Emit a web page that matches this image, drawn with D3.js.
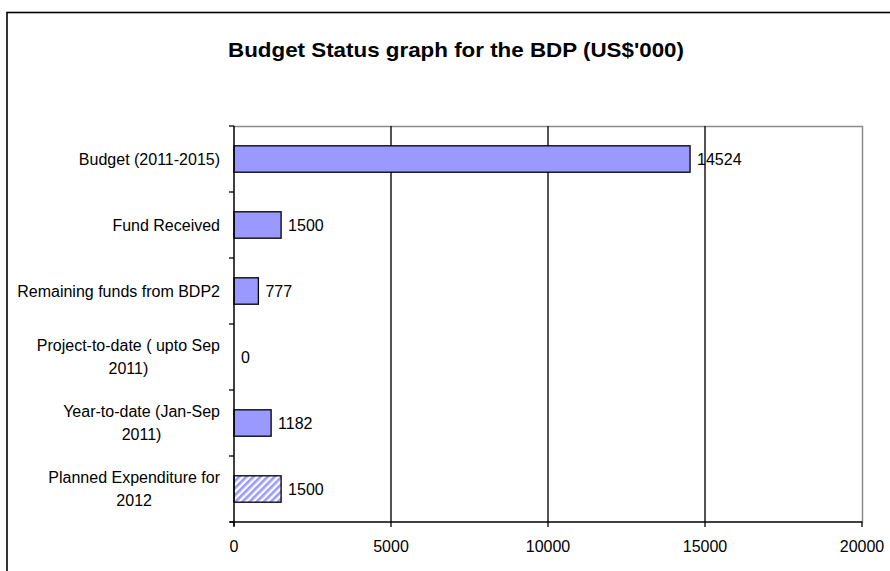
<!DOCTYPE html>
<html>
<head>
<meta charset="utf-8">
<script src="https://cdn.jsdelivr.net/npm/d3@7"></script>
<style>
  html, body { margin: 0; padding: 0; background: #fff; }
  svg { display: block; }
  text { font-family: "Liberation Sans", Arial, sans-serif; fill: #000; }
</style>
</head>
<body>
<svg id="chart" width="890" height="571"></svg>
<script>
// Budget status figures, US$'000
const categories = [
  ["Budget (2011-2015)"],
  ["Fund Received"],
  ["Remaining funds from BDP2"],
  ["Project-to-date ( upto Sep", "2011)"],
  ["Year-to-date (Jan-Sep", "2011)"],
  ["Planned Expenditure for", "2012"]
];
const values = [14524, 1500, 777, 0, 1182, 1500];
const planned = [false, false, false, false, false, true];
const xTicks = [0, 5000, 10000, 15000, 20000];

const svg = d3.select("#chart");
const plot = { left: 234, right: 862, top: 126, bottom: 522 };
const fontSize = 16;

// hatch pattern for planned amounts
const defs = svg.append("defs");
const pat = defs.append("pattern")
  .attr("id", "hatch")
  .attr("patternUnits", "userSpaceOnUse")
  .attr("width", 5).attr("height", 5)
  .attr("patternTransform", "rotate(45)");
pat.append("rect").attr("width", 5).attr("height", 5).attr("fill", "#fff");
pat.append("rect").attr("width", 2.6).attr("height", 5).attr("fill", "#9999ff");

// outer frame
svg.append("rect")
  .attr("x", 7).attr("y", 12.5)
  .attr("width", 900).attr("height", 600)
  .attr("fill", "none").attr("stroke", "#000").attr("stroke-width", 1.6);

// title
svg.append("text")
  .attr("x", 456).attr("y", 57)
  .attr("text-anchor", "middle")
  .attr("font-size", 21).attr("font-weight", "bold")
  .attr("textLength", 456).attr("lengthAdjust", "spacingAndGlyphs")
  .text("Budget Status graph for the BDP (US$'000)");

const x = d3.scaleLinear().domain([0, 20000]).range([plot.left, plot.right]);
const y = d3.scaleBand().domain(d3.range(categories.length)).range([plot.top, plot.bottom]).padding(0);
const barH = y.bandwidth() * 0.4;

// plot border (top and right, grey)
svg.append("path")
  .attr("d", `M${plot.left},${plot.top + 0.5}H${plot.right + 0.5}V${plot.bottom}`)
  .attr("fill", "none").attr("stroke", "#8c8c8c").attr("stroke-width", 1.5);

// vertical gridlines
svg.append("g").selectAll("line")
  .data(xTicks.filter(t => t > 0 && t < 20000))
  .join("line")
  .attr("x1", d => x(d)).attr("x2", d => x(d))
  .attr("y1", plot.top).attr("y2", plot.bottom)
  .attr("stroke", "#1a1a1a").attr("stroke-width", 1.5);

// bars
svg.append("g").selectAll("rect")
  .data(values.map((v, i) => ({ v, i })).filter(d => d.v > 0))
  .join("rect")
  .attr("x", x(0))
  .attr("y", d => y(d.i) + (y.bandwidth() - barH) / 2)
  .attr("width", d => x(d.v) - x(0))
  .attr("height", barH)
  .attr("fill", d => planned[d.i] ? "url(#hatch)" : "#9999ff")
  .attr("stroke", "#000").attr("stroke-width", 1.3);

// value labels
svg.append("g").selectAll("text")
  .data(values)
  .join("text")
  .attr("x", d => x(d) + 7)
  .attr("y", (d, i) => y(i) + y.bandwidth() / 2)
  .attr("dy", "0.35em")
  .attr("font-size", fontSize)
  .text(d => d);

// left axis
const yAxis = svg.append("g");
yAxis.append("line")
  .attr("x1", plot.left).attr("x2", plot.left)
  .attr("y1", plot.top).attr("y2", plot.bottom + 4)
  .attr("stroke", "#000").attr("stroke-width", 1.5);
yAxis.selectAll("line.tick")
  .data(d3.range(categories.length + 1))
  .join("line")
  .attr("class", "tick")
  .attr("x1", plot.left - 5).attr("x2", plot.left)
  .attr("y1", d => plot.top + d * y.step())
  .attr("y2", d => plot.top + d * y.step())
  .attr("stroke", "#000").attr("stroke-width", 1.3);

// category labels; wrapped lines are centred under the first line
const labelRight = 220;
const lab = svg.append("g").selectAll("text")
  .data(categories)
  .join("text")
  .attr("text-anchor", "end")
  .attr("font-size", fontSize)
  .attr("x", labelRight)
  .attr("y", (d, i) => y(i) + y.bandwidth() / 2 - (d.length - 1) * 11.5);
lab.selectAll("tspan")
  .data(d => d)
  .join("tspan")
  .attr("x", labelRight)
  .attr("dy", (d, j) => j === 0 ? "0.35em" : "22.5")
  .text(d => d);
lab.each(function (d) {
  if (d.length < 2) return;
  const spans = d3.select(this).selectAll("tspan").nodes();
  const w0 = spans[0].getComputedTextLength();
  spans.slice(1).forEach(s =>
    d3.select(s).attr("x", labelRight - w0 / 2).attr("text-anchor", "middle"));
});

// bottom axis
const xAxis = svg.append("g");
xAxis.append("line")
  .attr("x1", plot.left - 4).attr("x2", plot.right + 0.5)
  .attr("y1", plot.bottom).attr("y2", plot.bottom)
  .attr("stroke", "#000").attr("stroke-width", 1.5);
xAxis.selectAll("line.tick")
  .data(xTicks)
  .join("line")
  .attr("class", "tick")
  .attr("x1", d => x(d)).attr("x2", d => x(d))
  .attr("y1", plot.bottom).attr("y2", plot.bottom + 5)
  .attr("stroke", "#000").attr("stroke-width", 1.3);
xAxis.selectAll("text")
  .data(xTicks)
  .join("text")
  .attr("x", d => x(d))
  .attr("y", 546)
  .attr("dy", "0.35em")
  .attr("text-anchor", "middle")
  .attr("font-size", fontSize)
  .text(d => d);
</script>
</body>
</html>
